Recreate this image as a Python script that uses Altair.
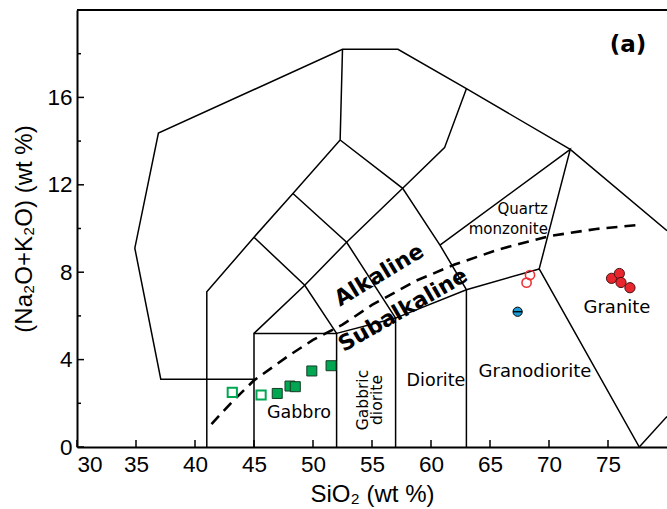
import altair as alt
import pandas as pd

# ---------------- data ----------------
# TAS (plutonic) field boundaries: (SiO2, Na2O+K2O)
outer_x = [45.0, 37.1, 34.9, 36.9, 52.5, 57.2, 63.0, 71.8, 80.0]
outer_y = [3.1, 3.1, 9.1, 14.37, 18.2, 18.2, 16.4, 13.62, 9.9]
l2_x = [41.0, 41.0, 45.0, 48.3, 52.3, 52.5]
l2_y = [0.0, 7.1, 9.6, 11.6, 14.05, 18.2]
gab_x = [45.0, 45.0, 52.0, 52.0]
gab_y = [0.0, 5.2, 5.2, 0.0]
l4_x = [45.0, 49.3, 52.85, 57.6, 61.15, 63.0]
l4_y = [5.2, 7.4, 9.37, 11.84, 13.7, 16.4]
l5_x = [45.0, 49.3, 52.0]
l5_y = [9.6, 7.4, 5.2]
l6_x = [48.3, 52.85, 57.0]
l6_y = [11.6, 9.37, 5.9]
l7_x = [52.3, 57.6, 60.76, 63.0]
l7_y = [14.05, 11.84, 9.24, 7.2]
l8_x = [52.0, 57.0, 63.0, 69.17]
l8_y = [5.2, 5.9, 7.2, 8.15]
l9_x = [57.0, 57.0]
l9_y = [0.0, 5.9]
l10_x = [63.0, 63.0]
l10_y = [0.0, 7.2]
l11_x = [60.76, 71.8, 69.17, 77.65]
l11_y = [9.24, 13.62, 8.15, 0.0]
l12_x = [77.65, 80.0]
l12_y = [0.0, 1.4]

# Alkaline / Subalkaline dashed boundary
dash_x = [41.4, 43.2, 45.0, 48.0, 50.0, 52.5, 55.0, 58.7, 62.0, 65.8, 70.0, 74.0, 77.6]
dash_y = [1.05, 2.1, 3.05, 4.2, 4.9, 5.6, 6.5, 7.6, 8.35, 9.05, 9.65, 9.98, 10.16]

# samples
sqo_x = [43.16, 45.6]
sqo_y = [2.5, 2.38]
sq_x = [46.97, 48.05, 48.5, 49.9, 51.53]
sq_y = [2.45, 2.79, 2.76, 3.48, 3.72]
rco_x = [68.39, 68.1]
rco_y = [7.87, 7.52]
rc_x = [75.3, 75.96, 76.1, 76.86]
rc_y = [7.72, 7.94, 7.53, 7.29]
bc_x = [67.34]
bc_y = [6.19]

# labels
lab_text = ["Quartz", "monzonite", "Gabbro", "Diorite", "Granodiorite", "Granite"]
lab_x = [67.77, 66.55, 48.81, 60.42, 68.81, 75.76]
lab_y = [10.89, 9.98, 1.56, 3.02, 3.43, 6.36]
lab_size = [15, 15, 17.5, 17.5, 18, 18]
rot_text = ["Gabbric", "diorite"]
rot_x = [54.24, 55.42]
rot_y = [2.15, 2.15]
bold_text = ["Alkaline", "Subalkaline"]
bold_x = [55.6, 57.63]
bold_y = [7.87, 6.27]
bold_angle = [329, 330]
panel_text = ["(a)"]
panel_x = [76.7]
panel_y = [18.4]

y_major = [0, 4, 8, 12, 16]
y_minor = [2, 6, 10, 14, 18]
x_major = [30, 35, 40, 45, 50, 55, 60, 65, 70, 75]

# ---------------- build ----------------
W, H = 590, 437
XS = alt.Scale(domain=[30, 80], nice=False, zero=False)
YS = alt.Scale(domain=[0, 20], nice=False, zero=False)
AXF = "Liberation Sans"
TXF = "DejaVu Sans"

segs = []
for name, xs, ys in [("outer", outer_x, outer_y), ("l2", l2_x, l2_y), ("gab", gab_x, gab_y),
                     ("l4", l4_x, l4_y), ("l5", l5_x, l5_y), ("l6", l6_x, l6_y),
                     ("l7", l7_x, l7_y), ("l8", l8_x, l8_y), ("l9", l9_x, l9_y),
                     ("l10", l10_x, l10_y), ("l11", l11_x, l11_y), ("l12", l12_x, l12_y)]:
    for i, (a, b) in enumerate(zip(xs, ys)):
        segs.append({"seg": name, "o": i, "x": a, "y": b})
seg_df = pd.DataFrame(segs)

xenc = alt.X("x:Q", scale=XS, axis=alt.Axis(
    title="SiO₂ (wt %)", values=x_major, ticks=False, tickSize=0, grid=False,
    domainColor="black", domainWidth=2, labelFont=AXF, labelFontSize=22.5,
    labelColor="black", labelPadding=6, titleFont=AXF, titleFontSize=24,
    titleFontWeight="normal", titleColor="black", titleY=47, titleBaseline="middle"))
yenc = alt.Y("y:Q", scale=YS, axis=alt.Axis(
    title="(Na₂O+K₂O) (wt %)", values=y_major, ticks=False, tickSize=0, grid=False,
    domainColor="black", domainWidth=2, labelFont=AXF, labelFontSize=22.5,
    labelColor="black", labelPadding=5, titleFont=AXF, titleFontSize=24,
    titleFontWeight="normal", titleColor="black", titleX=-53, titleBaseline="middle"))

base_x = alt.X("x:Q", scale=XS)
base_y = alt.Y("y:Q", scale=YS)

lines = alt.Chart(seg_df).mark_line(color="black", strokeWidth=1.5, clip=True).encode(
    x=xenc, y=yenc, detail="seg:N", order="o:Q")

dash = alt.Chart(pd.DataFrame({"x": dash_x, "y": dash_y})).mark_line(
    color="black", strokeWidth=2.6, strokeDash=[11, 7], clip=True).encode(x=base_x, y=base_y)

top = alt.Chart(pd.DataFrame({"x": [30]})).mark_rule(color="black", strokeWidth=2).encode(
    x=alt.value(0), x2=alt.value(W), y=alt.value(0))

ymaj = alt.Chart(pd.DataFrame({"y": y_major})).mark_rule(color="black", strokeWidth=1.5).encode(
    y=base_y, x=alt.value(0), x2=alt.value(7))
ymin = alt.Chart(pd.DataFrame({"y": y_minor})).mark_rule(color="black", strokeWidth=1.5).encode(
    y=base_y, x=alt.value(0), x2=alt.value(4))
xmaj = alt.Chart(pd.DataFrame({"x": x_major})).mark_rule(color="black", strokeWidth=1.5).encode(
    x=base_x, y=alt.value(H), y2=alt.value(H - 7))

sq_open = alt.Chart(pd.DataFrame({"x": sqo_x, "y": sqo_y})).mark_point(
    shape="square", size=85, filled=False, color="#00a651", strokeWidth=2, opacity=1).encode(x=base_x, y=base_y)
sq_fill = alt.Chart(pd.DataFrame({"x": sq_x, "y": sq_y})).mark_point(
    shape="square", size=100, filled=True, fill="#00a651", stroke="#153d25", strokeWidth=1,
    opacity=1).encode(x=base_x, y=base_y)
rc_open = alt.Chart(pd.DataFrame({"x": rco_x, "y": rco_y})).mark_point(
    shape="circle", size=85, filled=False, color="#ee3338", strokeWidth=1.6, opacity=1).encode(x=base_x, y=base_y)
rc_fill = alt.Chart(pd.DataFrame({"x": rc_x, "y": rc_y})).mark_point(
    shape="circle", size=105, filled=True, fill="#e8262d", stroke="#4a0f10", strokeWidth=1,
    opacity=1).encode(x=base_x, y=base_y)
bc_fill = alt.Chart(pd.DataFrame({"x": bc_x, "y": bc_y})).mark_point(
    shape="circle", size=85, filled=True, fill="#1b9ad6", stroke="black", strokeWidth=1,
    opacity=1).encode(x=base_x, y=base_y)
bc_bar = alt.Chart(pd.DataFrame({"x": bc_x, "y": bc_y})).mark_point(
    shape="M-1,0L1,0", size=85, filled=False, color="black", strokeWidth=1.3,
    opacity=1).encode(x=base_x, y=base_y)

labels = alt.Chart(pd.DataFrame({"t": lab_text, "x": lab_x, "y": lab_y, "s": lab_size})).mark_text(
    font=TXF, color="black", align="center", baseline="middle").encode(
    x=base_x, y=base_y, text="t:N", size=alt.Size("s:Q", scale=None, legend=None))
rot_labels = alt.Chart(pd.DataFrame({"t": rot_text, "x": rot_x, "y": rot_y})).mark_text(
    font=TXF, fontSize=15.5, color="black", angle=270, align="center", baseline="middle").encode(
    x=base_x, y=base_y, text="t:N")
bold_labels = alt.Chart(pd.DataFrame({"t": bold_text, "x": bold_x, "y": bold_y, "a": bold_angle})).mark_text(
    font=TXF, fontSize=22, fontWeight="bold", color="black", align="center", baseline="middle").encode(
    x=base_x, y=base_y, text="t:N", angle=alt.Angle("a:Q", scale=None, legend=None))
panel = alt.Chart(pd.DataFrame({"t": panel_text, "x": panel_x, "y": panel_y})).mark_text(
    font=TXF, fontSize=23, fontWeight="bold", color="black", align="center", baseline="middle").encode(
    x=base_x, y=base_y, text="t:N")

chart = alt.layer(
    lines, dash, top, ymaj, ymin, xmaj,
    labels, rot_labels, bold_labels, panel,
    sq_open, sq_fill, rc_open, rc_fill, bc_fill, bc_bar,
).properties(
    width=W, height=H,
    autosize=alt.AutoSizeParams(type="none"),
    padding={"left": 77, "top": 10, "right": 0, "bottom": 62},
).configure_view(stroke=None).configure(background="white")

chart.save("out.html", embed_options={"renderer": "svg", "actions": False})
